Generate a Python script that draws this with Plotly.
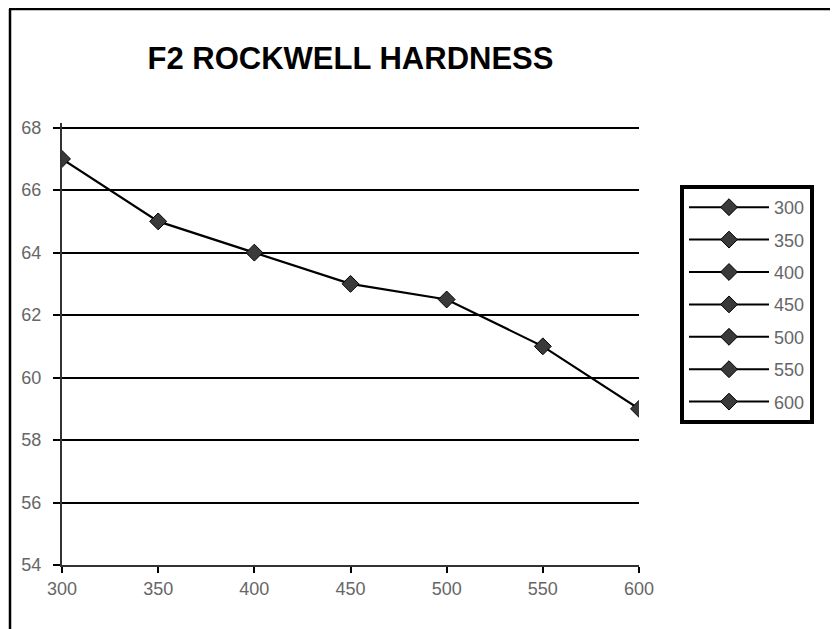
import plotly.graph_objects as go

# values
temps = [300, 350, 400, 450, 500, 550, 600]
hardness = [67, 65, 64, 63, 62.5, 61, 59]
legend_names = ["300", "350", "400", "450", "500", "550", "600"]
y_ticks = [54, 56, 58, 60, 62, 64, 66, 68]

Y_MIN, Y_MAX = 54, 68.15  # small headroom so the 68 gridline is drawn

# the page body adds an 8px margin, so the figure is drawn 8px smaller
OFF = 8
W, H = 838 - OFF, 629 - OFF
L = 62 - OFF
R = W - (639 - OFF)
B = H - (565 - OFF)
# put y=68 at page pixel 128
ph = round(437 * (Y_MAX - Y_MIN) / (68 - Y_MIN))
T = H - B - ph
pw = W - L - R


# page pixel -> paper coordinate
def px_x(x):
    return (x - OFF - L) / pw


def px_y(y):
    return (H - B - (y - OFF)) / ph


marker_style = dict(symbol="diamond", size=13, color="#3a3a3a",
                    line=dict(color="black", width=1))

fig = go.Figure()

fig.add_trace(go.Scatter(
    x=temps, y=hardness,
    mode="lines+markers",
    line=dict(color="black", width=2.2),
    marker=marker_style,
    showlegend=False, hoverinfo="x+y",
))

# Excel-style legend: one entry per category
for name in legend_names:
    fig.add_trace(go.Scatter(
        x=[None], y=[None], name=name,
        mode="lines+markers", legendgroup=name,
        line=dict(color="black", width=2),
        marker=marker_style,
    ))

# outer frame (left and top edges)
fig.add_shape(type="line", xref="paper", yref="paper",
              x0=px_x(10), x1=px_x(10), y0=px_y(9), y1=px_y(640),
              line=dict(color="black", width=2.5))
fig.add_shape(type="line", xref="paper", yref="paper",
              x0=px_x(9), x1=px_x(850), y0=px_y(9), y1=px_y(9),
              line=dict(color="black", width=2.5))

fig.update_layout(
    width=W, height=H,
    margin=dict(l=L, r=R, t=T, b=B),
    paper_bgcolor="white", plot_bgcolor="white",
    title=dict(text="<b>F2 ROCKWELL HARDNESS</b>", x=0.5, xref="paper",
               y=1 - (58 - OFF) / H, yanchor="middle",
               font=dict(family="Liberation Sans", size=31, color="black")),
    font=dict(family="Liberation Sans", size=18, color="#666"),
    xaxis=dict(range=[300, 600], tickvals=temps, showgrid=False,
               showline=True, linecolor="#333", linewidth=2,
               ticks="outside", ticklen=6, tickcolor="black", tickwidth=2,
               zeroline=False, fixedrange=True),
    yaxis=dict(range=[Y_MIN, Y_MAX], tickvals=y_ticks, showgrid=True,
               gridcolor="black", gridwidth=1.6,
               showline=True, linecolor="#333", linewidth=2,
               ticks="outside", ticklen=7, tickcolor="black", tickwidth=1.6,
               ticklabelstandoff=8,
               zeroline=False, fixedrange=True),
    legend=dict(x=px_x(680), y=px_y(185), xanchor="left", yanchor="top",
                bordercolor="black", borderwidth=4, bgcolor="white",
                tracegroupgap=6, itemwidth=80,
                font=dict(family="Liberation Sans", size=18, color="#666")),
)

fig.write_html("out.html")
